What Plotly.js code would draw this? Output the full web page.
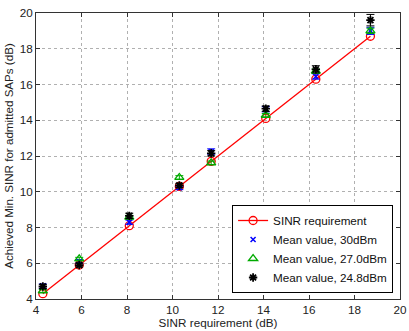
<!DOCTYPE html>
<html><head><meta charset="utf-8">
<script src="https://cdn.plot.ly/plotly-3.0.1.min.js"></script>
<style>body{margin:0;background:#fff}#c{width:409px;height:331px}</style>
</head><body><div id="c"></div>
<script>
const sinrReq = [4.3, 5.9, 8.1, 10.3, 11.7, 14.1, 16.3, 18.7];
const mean30 = [4.72, 6.1, 8.3, 10.22, 12.25, 14.62, 16.45, 19.0];
const err30 = [0.12, 0.1, 0.12, 0.1, 0.15, 0.15, 0.15, 0.2];
const mean27 = [4.45, 6.25, 8.58, 10.8, 11.62, 14.28, 16.75, 19.0];
const err27 = [0.08, 0.08, 0.1, 0.1, 0.1, 0.1, 0.12, 0.15];
const mean248 = [4.7, 5.9, 8.65, 10.35, 12.15, 14.65, 16.85, 19.6];
const err248 = [0.12, 0.1, 0.15, 0.12, 0.15, 0.15, 0.2, 0.32];
const labels = ['SINR requirement', 'Mean value, 30dBm', 'Mean value, 27.0dBm', 'Mean value, 24.8dBm'];

const traces = [
  {x: sinrReq, y: sinrReq, name: labels[0], mode: 'lines+markers',
   line: {color: '#ff0000', width: 1.3},
   marker: {symbol: 'circle-open', size: 8, color: '#ff0000', line: {width: 1.3}}},
  {x: sinrReq, y: mean30, name: labels[1], mode: 'markers',
   marker: {symbol: 'x-thin-open', size: 5, color: '#0000ff', line: {width: 1.5, color: '#0000ff'}},
   error_y: {type: 'data', array: err30, color: '#0000ff', thickness: 1, width: 4}},
  {x: sinrReq, y: mean27, name: labels[2], mode: 'markers',
   marker: {symbol: 'triangle-up-open', size: 8, color: '#00aa00', line: {width: 1.3}},
   error_y: {type: 'data', array: err27, color: '#00aa00', thickness: 1, width: 4}},
  {x: sinrReq, y: mean248, name: labels[3], mode: 'markers',
   marker: {symbol: 'asterisk-open', size: 7, color: '#000000', line: {width: 1.8, color: '#000000'}},
   error_y: {type: 'data', array: err248, color: '#000000', thickness: 1, width: 4}}
];

const fam = 'Liberation Sans, Arial, sans-serif';
const axisCommon = {
  showgrid: true, gridcolor: '#b0b0b0', griddash: 'dot', gridwidth: 1,
  zeroline: false, showline: true, linecolor: '#333', linewidth: 1, mirror: 'ticks',
  ticks: 'inside', ticklen: 4, tickcolor: '#333', dtick: 2,
  tickfont: {family: fam, size: 11.7, color: '#222'}
};

const layout = {
  width: 409, height: 331,
  margin: {l: 36, r: 9, t: 13, b: 32},
  paper_bgcolor: '#fff', plot_bgcolor: '#fff',
  showlegend: true,
  xaxis: Object.assign({}, axisCommon, {range: [4, 20],
    title: {text: 'SINR requirement (dB)', standoff: 2, font: {family: fam, size: 11.7, color: '#222'}}}),
  yaxis: Object.assign({}, axisCommon, {range: [4, 20],
    title: {text: 'Achieved Min. SINR for admitted SAPs (dB)', standoff: 3, font: {family: fam, size: 11.6, color: '#222'}}}),
  legend: {x: 0.981, y: 0.021, xanchor: 'right', yanchor: 'bottom',
    bgcolor: '#fff', bordercolor: '#000', borderwidth: 1,
    font: {family: fam, size: 11.7, color: '#111'},
    tracegroupgap: 0, itemwidth: 30}
};

Plotly.newPlot('c', traces, layout, {staticPlot: true, displayModeBar: false});
</script></body></html>
